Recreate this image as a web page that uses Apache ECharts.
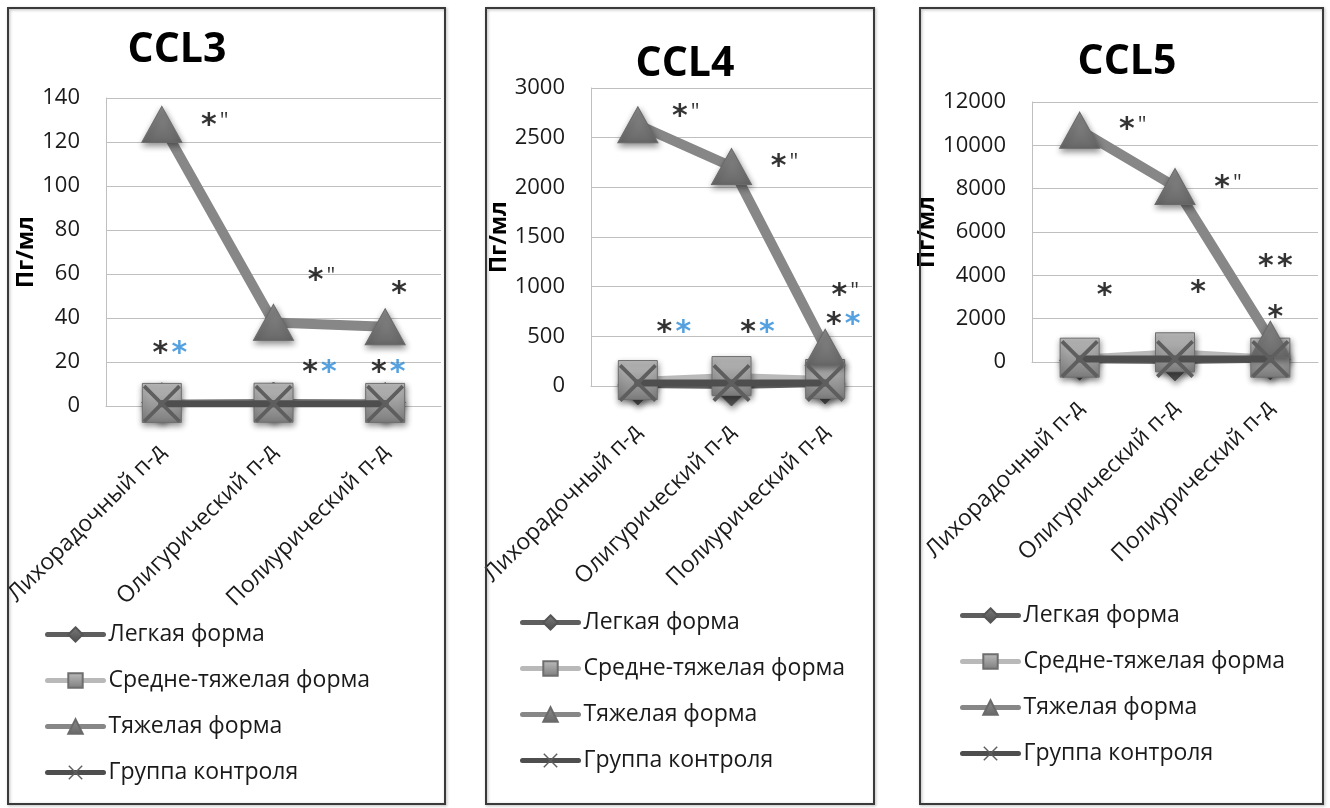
<!DOCTYPE html>
<html><head><meta charset="utf-8">
<script src="https://cdn.jsdelivr.net/npm/echarts@6/dist/echarts.min.js"></script>
<style>html,body{margin:0;padding:0;background:#fff}#c{width:1330px;height:808px}</style>
</head><body><div id="c"></div>
<script>
// ---------- DATA ----------
const categories = ['Лихорадочный п-д', 'Олигурический п-д', 'Полиурический п-д'];
const seriesNames = ['Легкая форма', 'Средне-тяжелая форма', 'Тяжелая форма', 'Группа контроля'];
const panelTitles = ['CCL3', 'CCL4', 'CCL5'];
const yAxisName = 'Пг/мл';

const ccl3Light   = [1.5, 1.8, 1.6];
const ccl3Medium  = [1.4, 1.5, 1.4];
const ccl3Severe  = [128, 38, 36];
const ccl3Control = [1, 1, 1];

const ccl4Light   = [10, 0, 20];
const ccl4Medium  = [60, 100, 70];
const ccl4Severe  = [2630, 2210, 390];
const ccl4Control = [30, 30, 30];

const ccl5Light   = [80, 50, 100];
const ccl5Medium  = [200, 450, 200];
const ccl5Severe  = [10700, 8100, 1050];
const ccl5Control = [140, 140, 140];

const yMax = [140, 3000, 12000];
const yStep = [20, 500, 2000];

// significance marks: [categoryIndex, value, kind]
// kinds: 'sq' = *" , 's' = * , 'sb' = black*+blue* , 'ss' = **
const ccl3Notes = [[0, 130, 'sq'], [1, 59.5, 'sq'], [2, 53.6, 's'], [0, 26.4, 'sb'], [1, 17.7, 'sb'], [2, 17.7, 'sb']];
const ccl4Notes = [[0, 2769, 'sq'], [1, 2265, 'sq'], [2, 966, 'sq'], [2, 675, 'sb'], [0, 594, 'sb'], [1, 594, 'sb']];
const ccl5Notes = [[0, 10985, 'sq'], [1, 8308, 'sq'], [2, 4662, 'ss'], [2, 2308, 's'], [0, 3323, 's'], [1, 3462, 's']];

// ---------- LAYOUT ----------
const FONT = 'Open Sans';
const layout = [
  { frame: [8, 8, 437, 796], grid: { left: 106, top: 98, width: 335, height: 308 }, titleX: 172, titleY: 25, legend: { left: 40, top: 618 }, nameGap: 64, noteDx: [53, 48, 14, 8, 46, 3] },
  { frame: [486, 8, 388, 796], grid: { left: 591, top: 88, width: 281, height: 298 }, titleX: 680, titleY: 39, legend: { left: 515, top: 606 }, nameGap: 68, noteDx: [48, 53, 20, 18, 36, 26] },
  { frame: [920, 8, 403, 796], grid: { left: 1032, top: 102, width: 286, height: 260 }, titleX: 1122, titleY: 37, legend: { left: 955, top: 599 }, nameGap: 74, noteDx: [53, 53, 5, 5, 25, 23] }
];
const panelData = [
  [ccl3Light, ccl3Medium, ccl3Severe, ccl3Control],
  [ccl4Light, ccl4Medium, ccl4Severe, ccl4Control],
  [ccl5Light, ccl5Medium, ccl5Severe, ccl5Control]
];
const panelNotes = [ccl3Notes, ccl4Notes, ccl5Notes];

const G = echarts.graphic;
const grad = (a, b) => new G.LinearGradient(0, 0, 0, 1, [{ offset: 0, color: a }, { offset: 1, color: b }]);
const xPath = 'path://M0,0.7L0.7,0L5,4.3L9.3,0L10,0.7L5.7,5L10,9.3L9.3,10L5,5.7L0.7,10L0,9.3L4.3,5Z';
const shadow = { shadowColor: 'rgba(0,0,0,0.45)', shadowBlur: 6, shadowOffsetX: 1, shadowOffsetY: 3 };

const styles = [
  { symbol: 'diamond', size: [40, 40], line: { color: '#5e5e5e', width: 6 }, item: Object.assign({ color: grad('#7a7a7a', '#4e4e4e'), borderColor: '#555', borderWidth: 1 }, shadow) },
  { symbol: 'rect', size: [39, 39], line: { color: '#b9b9b9', width: 6 }, item: Object.assign({ color: grad('#bdbdbd', '#7d7d7d'), borderColor: '#6e6e6e', borderWidth: 1 }, shadow) },
  { symbol: 'triangle', size: [40, 36], line: { color: '#878787', width: 10 }, item: Object.assign({ color: grad('#8c8c8c', '#686868'), borderColor: '#6a6a6a', borderWidth: 1 }, shadow) },
  { symbol: xPath, size: [38, 38], line: { color: '#4e4e4e', width: 7 }, item: { color: '#5e5e5e', borderWidth: 0 } }
];

const noteText = {
  sq: '{k|*}{q|"}',
  s: '{k|*}',
  sb: '{k|*} {b|*}',
  ss: '{k|*} {k|*}'
};

const option = {
  animation: false,
  backgroundColor: '#ffffff',
  textStyle: { fontFamily: FONT },
  title: [], grid: [], xAxis: [], yAxis: [], legend: [], series: [], graphic: []
};

layout.forEach((L, i) => {
  option.graphic.push({
    type: 'rect', silent: true, z: 100,
    shape: { x: L.frame[0], y: L.frame[1], width: L.frame[2], height: L.frame[3] },
    style: { fill: null, stroke: '#3a3a3a', lineWidth: 2, shadowColor: 'rgba(0,0,0,0.3)', shadowBlur: 3, shadowOffsetX: 1, shadowOffsetY: 1 }
  });
  option.title.push({
    text: panelTitles[i], left: L.titleX, top: L.titleY, textAlign: 'center',
    textStyle: { fontFamily: FONT, fontSize: 41, fontWeight: 'bold', color: '#000', lineHeight: 41 }
  });
  option.grid.push(Object.assign({ containLabel: false }, L.grid));
  option.xAxis.push({
    type: 'category', gridIndex: i, data: categories, boundaryGap: true,
    axisLine: { show: true, lineStyle: { color: '#bfbfbf', width: 1 } },
    axisTick: { show: false },
    axisLabel: { rotate: 45, margin: 42, fontSize: 23, color: '#1a1a1a', fontFamily: FONT, interval: 0 },
    splitLine: { show: false }
  });
  option.yAxis.push({
    type: 'value', gridIndex: i, min: 0, max: yMax[i], interval: yStep[i],
    name: yAxisName, nameLocation: 'middle', nameGap: L.nameGap, nameRotate: 90,
    nameTextStyle: { fontSize: 23, fontWeight: 'bold', color: '#000', fontFamily: FONT },
    axisLine: { show: true, lineStyle: { color: '#bfbfbf', width: 1 } },
    axisTick: { show: false },
    axisLabel: { margin: 26, fontSize: 22, color: '#1a1a1a', fontFamily: FONT, formatter: v => String(v) },
    splitLine: { show: true, lineStyle: { color: '#bfbfbf', width: 1 } }
  });
  option.legend.push({
    orient: 'vertical', left: L.legend.left, top: L.legend.top,
    data: seriesNames, itemWidth: 56, itemHeight: 18, itemGap: 23,
    selectedMode: false,
    lineStyle: { width: 5 },
    textStyle: { fontSize: 23, color: '#1a1a1a', fontFamily: FONT, lineHeight: 22 }
  });
  panelData[i].forEach((vals, s) => {
    const st = styles[s];
    option.series.push({
      type: 'line', name: seriesNames[s], xAxisIndex: i, yAxisIndex: i,
      data: vals, symbol: st.symbol, symbolSize: st.size, showSymbol: true,
      lineStyle: Object.assign({ cap: 'round', join: 'round' }, st.line),
      itemStyle: st.item, z: 2 + s
    });
  });
  option.series.push({
    type: 'scatter', name: 'notes' + i, xAxisIndex: i, yAxisIndex: i, silent: true, z: 20,
    symbolSize: 1, itemStyle: { color: 'rgba(0,0,0,0)' },
    data: panelNotes[i].map((n, k) => ({
      value: [n[0], n[1]],
      label: { show: true, position: 'inside', offset: [L.noteDx[k], 6], formatter: noteText[n[2]] }
    })),
    label: {
      show: true,
      rich: {
        k: { fontSize: 30, color: '#000', fontFamily: 'DejaVu Sans', fontWeight: 'bold' },
        b: { fontSize: 30, color: '#2b8ad8', fontFamily: 'DejaVu Sans', fontWeight: 'bold' },
        q: { fontSize: 22, color: '#000', fontFamily: FONT, verticalAlign: 'top', padding: [0, 0, 8, 3] }
      }
    }
  });
});

const chart = echarts.init(document.getElementById('c'), null, { renderer: 'canvas' });
chart.setOption(option);
</script>
</body></html>
